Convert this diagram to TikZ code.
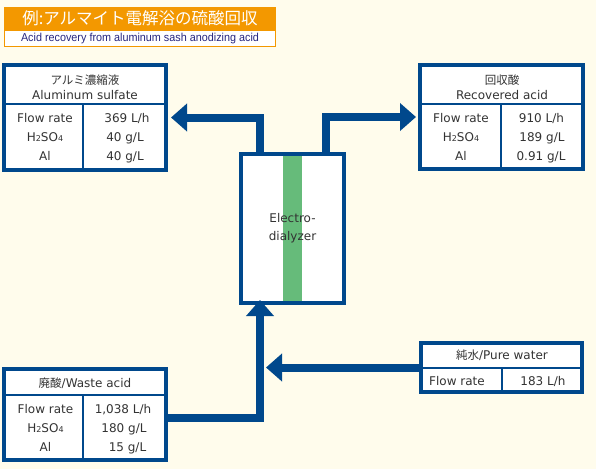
\documentclass[tikz,border=0pt]{standalone}
\usepackage{fontspec}
\setmainfont{DejaVu Sans}
\newfontfamily\jp{Noto Sans CJK JP}
\newfontfamily\subfont[FakeStretch=0.94]{Liberation Sans}
\usetikzlibrary{arrows.meta}
\definecolor{boxblue}{RGB}{0,72,140}
\definecolor{bannerorange}{RGB}{243,152,0}
\definecolor{stripgreen}{RGB}{102,187,122}
\definecolor{bgcream}{RGB}{255,252,236}
\definecolor{txtgray}{RGB}{51,51,51}
\definecolor{subnavy}{RGB}{38,38,128}
\newcommand{\hso}{H{\fontsize{8}{8}\selectfont 2}SO{\fontsize{8}{8}\selectfont 4}}

\begin{document}
\begin{tikzpicture}[x=1pt, y=-1pt, >={Triangle[length=16pt,width=27pt]},
    tbox/.style={draw=boxblue, line width=4pt, fill=white, inner sep=0pt, outer sep=0pt},
    tline/.style={draw=boxblue, line width=2.5pt},
    pipe/.style={draw=boxblue, line width=8pt, line join=miter},
    txt/.style={inner sep=0pt, text height=9pt, text depth=0pt, text=txtgray, font=\fontsize{12}{14}\selectfont},
    jtxt/.style={txt, font=\jp\fontsize{11.5}{14}\selectfont}]
    \useasboundingbox (0,0) rectangle (596,469);
    \fill[bgcream] (0,0) rectangle (596,469);

    % Title banner
    \node[fill=bannerorange, minimum width=272pt, minimum height=23pt, inner sep=0pt, text=white, font=\jp\fontsize{16.5}{18}\selectfont] (ttl) at (140,18.5) {例:アルマイト電解浴の硫酸回収};
    \node[draw=bannerorange, line width=1.2pt, fill=white, minimum width=271pt, minimum height=16.5pt, inner sep=0pt, text=subnavy, font=\subfont\fontsize{11.5}{13}\selectfont] (sub) at (140,38.6) {Acid recovery from aluminum sash anodizing acid};

    % Aluminum sulfate (top left)
    \node[tbox, minimum width=162pt, minimum height=105pt] (alsul) at (85,117.5) {};
    \draw[tline] (4,104) -- (166,104);
    \draw[tline] (83,104) -- (83,169);
    \node[jtxt] (alsulJ) at (85,80) {アルミ濃縮液};
    \node[txt] (alsulE) at (85,95) {Aluminum sulfate};
    \node[txt] (alsulF) at (45,118) {Flow rate};
    \node[txt] (alsulH) at (45,137) {\hso};
    \node[txt] (alsulA) at (45,156) {Al};
    \node[txt] (alsulFv) at (127,118) {369 L/h};
    \node[txt] (alsulHv) at (125,137) {40 g/L};
    \node[txt] (alsulAv) at (125,156) {40 g/L};

    % Recovered acid (top right)
    \node[tbox, minimum width=163pt, minimum height=104pt] (recac) at (501.5,117) {};
    \draw[tline] (420,104) -- (583,104);
    \draw[tline] (501,104) -- (501,168);
    \node[jtxt] (recacJ) at (502,80) {回収酸};
    \node[txt] (recacE) at (502,95) {Recovered acid};
    \node[txt] (recacF) at (461,118) {Flow rate};
    \node[txt] (recacH) at (461,137) {\hso};
    \node[txt] (recacA) at (461,156) {Al};
    \node[txt] (recacFv) at (541.5,118) {910 L/h};
    \node[txt] (recacHv) at (542,137) {189 g/L};
    \node[txt] (recacAv) at (541,156) {0.91 g/L};

    % Electrodialyzer
    \node[tbox, minimum width=103pt, minimum height=149pt] (dial) at (292.5,228.5) {};
    \fill[stripgreen] (283,156) rectangle (302,301);
    \node[txt, align=center, text height=, text depth=, font=\fontsize{12}{18}\selectfont] (dialT) at (292.5,228) {Electro-\\dialyzer};

    % Waste acid (bottom left)
    \node[tbox, minimum width=162pt, minimum height=91pt] (wacid) at (85,414.5) {};
    \draw[tline] (4,395) -- (166,395);
    \draw[tline] (83,395) -- (83,459);
    \node[txt] (wacidT) at (85,383) {{\jp\fontsize{11.5}{14}\selectfont 廃酸}/Waste acid};
    \node[txt] (wacidF) at (45.5,409) {Flow rate};
    \node[txt] (wacidH) at (45.5,428) {\hso};
    \node[txt] (wacidA) at (45.5,447) {Al};
    \node[txt] (wacidFv) at (123,409) {1,038 L/h};
    \node[txt] (wacidHv) at (124,428) {180 g/L};
    \node[txt] (wacidAv) at (127.5,447) {15 g/L};

    % Pure water (bottom right)
    \node[tbox, minimum width=161pt, minimum height=49pt] (pwat) at (501.5,367.5) {};
    \draw[tline] (421,368) -- (582,368);
    \draw[tline] (502,368) -- (502,390);
    \node[txt] (pwatT) at (502,355) {{\jp\fontsize{11.5}{14}\selectfont 純水}/Pure water};
    \node[txt] (pwatF) at (457,381) {Flow rate};
    \node[txt] (pwatFv) at (543,381) {183 L/h};

    % Pipes and flow arrows
    \coordinate (doutL) at ([xshift=19pt]dial.north west);
    \coordinate (doutR) at ([xshift=-18.5pt]dial.north east);
    \coordinate (pwtip) at (266,367.5);
    \draw[pipe, ->, shorten >=5pt] (doutL) |- (alsul.east);
    \draw[pipe, ->, shorten >=4pt] (doutR) |- (recac.west);
    \draw[pipe, ->, shorten >=-3pt] ([yshift=-3.5pt]wacid.east) -| ([xshift=-32.5pt]dial.south);
    \draw[pipe, ->] (pwat.west) -- (pwtip);
\end{tikzpicture}
\end{document}
